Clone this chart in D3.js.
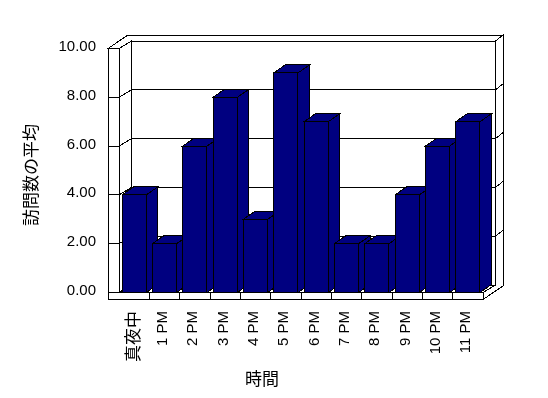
<!DOCTYPE html>
<html>
<head>
<meta charset="utf-8">
<script src="https://cdn.jsdelivr.net/npm/d3@7"></script>
<style>
  body { margin: 0; background: #fff; }
  svg { display: block; }
  .face { fill: #fff; stroke: #000; stroke-width: 1; }
  .grid { stroke: #000; stroke-width: 1; fill: none; }
  .bar { fill: #000080; stroke: #000; stroke-width: 1; }
  .tick { font-family: "Liberation Sans", Arial, sans-serif; font-size: 15px; fill: #000; }
  .title { font-family: "Noto Sans CJK JP", sans-serif; font-size: 17px; fill: #000; }
</style>
</head>
<body>
<div id="chart"></div>
<script>
// categories (hours) and average visit counts
var hours = ["真夜中", "1 PM", "2 PM", "3 PM", "4 PM", "5 PM", "6 PM", "7 PM", "8 PM", "9 PM", "10 PM", "11 PM"];
var visits = [4, 2, 6, 8, 3, 9, 7, 2, 2, 4, 6, 7];
var yTicks = [0, 2, 4, 6, 8, 10];
var yTitle = "訪問数の平均";
var xTitle = "時間";

var width = 548, height = 398;

// front plane of the 3d box
var plotLeft = 119, plotRight = 483, plotBottom = 292.5, plotTop = 48.5;
var depth = [12.5, -7.5];   // front -> back wall
var wallThick = [7.5, -6];  // thickness of back wall
var sideWall = 11;          // thickness of left wall
var floorThick = 7;

var svg = d3.select("#chart").append("svg")
    .attr("width", width)
    .attr("height", height)

// grey text smoothing (no colour fringes on rotated text)
svg.append("defs").append("filter")
    .attr("id", "grey")
    .append("feColorMatrix")
    .attr("type", "saturate")
    .attr("values", 0)

var x = d3.scaleBand()
    .domain(hours)
    .range([plotLeft, plotRight])
    .paddingInner(0.2)
    .paddingOuter(0.1)

var y = d3.scaleLinear()
    .domain([0, 10])
    .range([plotBottom, plotTop])

var line = d3.line()
var g = svg.append("g").attr("shape-rendering", "crispEdges")

function poly(pts, cls) {
    return g.append("path").attr("d", line(pts) + "Z").attr("class", cls)
}

var bx = plotLeft + depth[0], by = plotBottom + depth[1], ty = plotTop + depth[1]
var rx = plotRight + depth[0]

// top of walls
poly([[plotLeft - sideWall, plotTop], [plotLeft, plotTop], [bx, ty], [rx, ty],
      [rx + wallThick[0], ty + wallThick[1]],
      [plotLeft - sideWall + depth[0] + wallThick[0], ty + wallThick[1]]], "face")

// back wall front face
poly([[bx, ty], [rx, ty], [rx, by], [bx, by]], "face")

// right side of back wall and floor
poly([[rx, ty], [rx + wallThick[0], ty + wallThick[1]],
      [rx + wallThick[0], by + floorThick + wallThick[1]],
      [plotRight, plotBottom + floorThick], [plotRight, plotBottom], [rx, by]], "face")

// inner face of left wall
poly([[plotLeft, plotTop], [bx, ty], [bx, by], [plotLeft, plotBottom]], "face")

// floor top
poly([[plotLeft, plotBottom], [bx, by], [rx, by], [plotRight, plotBottom]], "face")

// front faces (left wall + floor)
poly([[plotLeft - sideWall, plotTop], [plotLeft, plotTop], [plotLeft, plotBottom], [plotRight, plotBottom],
      [plotRight, plotBottom + floorThick], [plotLeft - sideWall, plotBottom + floorThick]], "face")

// gridlines
yTicks.forEach(function(v) {
    var yy = y(v)
    if (v > 0 && v < 10) {
        g.append("path").attr("class", "grid")
            .attr("d", line([[bx, yy + depth[1]], [rx, yy + depth[1]]]))
        g.append("path").attr("class", "grid")
            .attr("d", line([[rx, yy + depth[1]], [rx + wallThick[0], yy + depth[1] + wallThick[1]]]))
    }
    if (v < 10) {
        g.append("path").attr("class", "grid")
            .attr("d", line([[plotLeft - sideWall, yy], [plotLeft, yy], [bx, yy + depth[1]]]))
    }
})

// category dividers on floor front
hours.forEach(function(h, i) {
    if (i == 0) return
    var xx = plotLeft + i * x.step()
    g.append("path").attr("class", "grid")
        .attr("d", line([[xx, plotBottom], [xx, plotBottom + floorThick]]))
})

// bars
var bw = x.bandwidth()
var barDepth = [11.5, -8]
hours.forEach(function(h, i) {
    var x0 = x(h), x1 = x0 + bw, y1 = y(visits[i])
    var bars = g.append("g")
    bars.append("path").attr("class", "bar")
        .attr("d", line([[x1, y1], [x1 + barDepth[0], y1 + barDepth[1]],
                         [x1 + barDepth[0], plotBottom + barDepth[1]], [x1, plotBottom]]) + "Z")
    bars.append("path").attr("class", "bar")
        .attr("d", line([[x0, y1], [x0 + barDepth[0], y1 + barDepth[1]],
                         [x1 + barDepth[0], y1 + barDepth[1]], [x1, y1]]) + "Z")
    bars.append("rect").attr("class", "bar")
        .attr("x", x0).attr("y", y1)
        .attr("width", bw).attr("height", plotBottom - y1)
})

var labels = svg.append("g").attr("filter", "url(#grey)")

// y tick labels
labels.selectAll(".ylab")
    .data(yTicks)
    .enter()
    .append("text")
    .attr("class", "tick")
    .attr("x", 96)
    .attr("y", d => y(d) - 3)
    .attr("text-anchor", "end")
    .attr("dominant-baseline", "central")
    .text(d => d3.format(".2f")(d))

// x tick labels (rotated)
labels.selectAll(".xlab")
    .data(hours)
    .enter()
    .append("text")
    .attr("class", d => /[^\x00-\x7f]/.test(d) ? "title" : "tick")
    .attr("text-anchor", "end")
    .attr("dominant-baseline", "central")
    .attr("transform", d => "translate(" + (x(d) + bw / 2 - 3) + ",311) rotate(-90)")
    .text(d => d)

// axis titles
labels.append("text")
    .attr("class", "title")
    .attr("text-anchor", "middle")
    .attr("dominant-baseline", "central")
    .attr("transform", "translate(29,175) rotate(-90)")
    .text(yTitle)

labels.append("text")
    .attr("class", "title")
    .attr("text-anchor", "middle")
    .attr("dominant-baseline", "central")
    .attr("x", 262)
    .attr("y", 377)
    .text(xTitle)
</script>
</body>
</html>
